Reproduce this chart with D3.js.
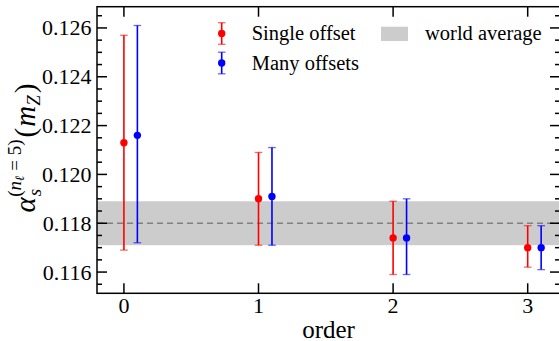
<!DOCTYPE html>
<html>
<head>
<meta charset="utf-8">
<script src="https://cdn.jsdelivr.net/npm/d3@7"></script>
</head>
<body style="margin:0;background:#fff">
<svg id="chart" width="559" height="341" style="display:block"></svg>
<script>
// Perturbative order of the extraction
const orders = [0, 1, 2, 3];

// Single offset: central value with lower / upper error limits
const singleCentral = [0.1213, 0.1190, 0.1174, 0.1170];
const singleLow     = [0.1169, 0.1171, 0.1159, 0.1162];
const singleHigh    = [0.1257, 0.1209, 0.1189, 0.1179];

// Many offsets: central value with lower / upper error limits
const manyCentral = [0.1216, 0.1191, 0.1174, 0.1170];
const manyLow     = [0.1172, 0.1171, 0.1159, 0.1161];
const manyHigh    = [0.1261, 0.1211, 0.1190, 0.1179];

// World average of alpha_s(m_Z) and its uncertainty
const worldAverage = 0.1180;
const worldError = 0.0009;

// Axis ticks
const xTicks = [0, 1, 2, 3];
const yTicks = [0.116, 0.118, 0.120, 0.122, 0.124, 0.126];

const seriesNames = ["Single offset", "Many offsets"];
const seriesColors = ["#ff0000", "#0000ff"];
const seriesShift = [0, 0.1];

const FONT = "Liberation Serif";
const svg = d3.select("#chart");
const plotLeft = 97, plotRight = 560, plotTop = 6.7, plotBottom = 293.3;

const x = d3.scaleLinear().domain([-0.2, 3.24]).range([plotLeft, plotRight]);
const y = d3.scaleLinear().domain([0.11513, 0.12687]).range([plotBottom, plotTop]);

// World-average band and its central dashed line
svg.append("rect")
  .attr("x", plotLeft).attr("width", plotRight - plotLeft)
  .attr("y", y(worldAverage + worldError))
  .attr("height", y(worldAverage - worldError) - y(worldAverage + worldError))
  .attr("fill", "#cccccc");
svg.append("line")
  .attr("x1", plotLeft).attr("x2", plotRight)
  .attr("y1", y(worldAverage)).attr("y2", y(worldAverage))
  .attr("stroke", "#808080").attr("stroke-width", 1.5)
  .attr("stroke-dasharray", "6,4");

// Error bars with markers
const series = [
  { c: singleCentral, lo: singleLow, hi: singleHigh },
  { c: manyCentral, lo: manyLow, hi: manyHigh }
];
const capHalf = 3.8;
series.forEach((s, si) => {
  const g = svg.append("g");
  const col = seriesColors[si];
  orders.forEach((o, i) => {
    const px = x(o + seriesShift[si]);
    g.append("line")
      .attr("x1", px).attr("x2", px)
      .attr("y1", y(s.lo[i])).attr("y2", y(s.hi[i]))
      .attr("stroke", col).attr("stroke-width", 1.6);
    [s.lo[i], s.hi[i]].forEach(v => {
      g.append("line")
        .attr("x1", px - capHalf).attr("x2", px + capHalf)
        .attr("y1", y(v)).attr("y2", y(v))
        .attr("stroke", col).attr("stroke-width", 1.3).attr("stroke-opacity", 0.6);
    });
    g.append("circle")
      .attr("cx", px).attr("cy", y(s.c[i])).attr("r", 3.7)
      .attr("fill", col);
  });
});

// Axes: inward ticks on all four sides
const majorLen = 10, minorLen = 5;
const yMinor = d3.range(0.1155, 0.1270, 0.0005).filter(v => v >= y.domain()[0] && v <= y.domain()[1]);
const axisG = svg.append("g").attr("stroke", "#000");
yMinor.forEach(v => {
  const isMajor = yTicks.some(t => Math.abs(t - v) < 1e-7);
  const len = isMajor ? majorLen : minorLen;
  axisG.append("line").attr("x1", plotLeft).attr("x2", plotLeft + len)
    .attr("y1", y(v)).attr("y2", y(v)).attr("stroke-width", 1.5);
  axisG.append("line").attr("x1", plotRight).attr("x2", plotRight - len)
    .attr("y1", y(v)).attr("y2", y(v)).attr("stroke-width", 1.5);
});
xTicks.forEach(v => {
  axisG.append("line").attr("x1", x(v)).attr("x2", x(v))
    .attr("y1", plotBottom).attr("y2", plotBottom - majorLen).attr("stroke-width", 1.5);
  axisG.append("line").attr("x1", x(v)).attr("x2", x(v))
    .attr("y1", plotTop).attr("y2", plotTop + majorLen).attr("stroke-width", 1.5);
});
svg.append("rect")
  .attr("x", plotLeft).attr("y", plotTop)
  .attr("width", plotRight - plotLeft).attr("height", plotBottom - plotTop)
  .attr("fill", "none").attr("stroke", "#000").attr("stroke-width", 1.5);

// Tick labels
svg.append("g").selectAll("text").data(yTicks).join("text")
  .attr("x", 91.5).attr("y", d => y(d))
  .attr("dy", "0.34em")
  .attr("text-anchor", "end")
  .attr("font-family", FONT).attr("font-size", 22)
  .text(d => d3.format(".3f")(d));
svg.append("g").selectAll("text").data(xTicks).join("text")
  .attr("x", d => x(d)).attr("y", 313)
  .attr("text-anchor", "middle")
  .attr("font-family", FONT).attr("font-size", 22)
  .text(d => d);

// Axis titles
svg.append("text")
  .attr("x", (plotLeft + plotRight) / 2).attr("y", 337.5)
  .attr("text-anchor", "middle")
  .attr("font-family", FONT).attr("font-size", 25)
  .text("order");

// alpha_s^(n_l = 5)(m_Z), built from shifted tspans
const yl = svg.append("text")
  .attr("transform", "translate(35,148) rotate(-90)")
  .attr("text-anchor", "middle")
  .attr("font-family", FONT).attr("font-size", 29);
yl.append("tspan").attr("font-style", "italic").text("α");
yl.append("tspan").attr("font-style", "italic").attr("font-size", 19).attr("dx", 1).attr("dy", 6).text("s");
yl.append("tspan").attr("font-size", 19).attr("dx", -8).attr("dy", -20).text("(");
yl.append("tspan").attr("font-style", "italic").attr("font-size", 19).text("n");
yl.append("tspan").attr("font-style", "italic").attr("font-size", 13).attr("dy", 3).text("ℓ");
yl.append("tspan").attr("font-size", 19).attr("dy", -3).text(" = 5)");
yl.append("tspan").attr("dx", 2).attr("dy", 14).text("(");
yl.append("tspan").attr("font-style", "italic").attr("dx", 1).text("m");
yl.append("tspan").attr("font-style", "italic").attr("font-size", 19).attr("dy", 5).text("Z");
yl.append("tspan").attr("dx", 2).attr("dy", -5).text(")");
yl.selectAll("tspan").attr("font-family", FONT);

// Legend
const legendRows = [33.5, 63];
seriesNames.forEach((name, i) => {
  const lx = 221.7, ly = legendRows[i], col = seriesColors[i];
  svg.append("line").attr("x1", lx).attr("x2", lx)
    .attr("y1", ly - 10.8).attr("y2", ly + 10.8)
    .attr("stroke", col).attr("stroke-width", 1.6);
  [ly - 10.8, ly + 10.8].forEach(v => {
    svg.append("line").attr("x1", lx - capHalf).attr("x2", lx + capHalf)
      .attr("y1", v).attr("y2", v)
      .attr("stroke", col).attr("stroke-width", 1.3).attr("stroke-opacity", 0.6);
  });
  svg.append("circle").attr("cx", lx).attr("cy", ly).attr("r", 3.7).attr("fill", col);
  svg.append("text").attr("x", 251.7).attr("y", ly + 6.5)
    .attr("font-family", FONT).attr("font-size", 20.5).text(name);
});
svg.append("rect").attr("x", 381).attr("y", 26.7).attr("width", 27).attr("height", 14.3)
  .attr("fill", "#cccccc");
svg.append("text").attr("x", 425).attr("y", 40)
  .attr("font-family", FONT).attr("font-size", 20.5).text("world average");
</script>
</body>
</html>
